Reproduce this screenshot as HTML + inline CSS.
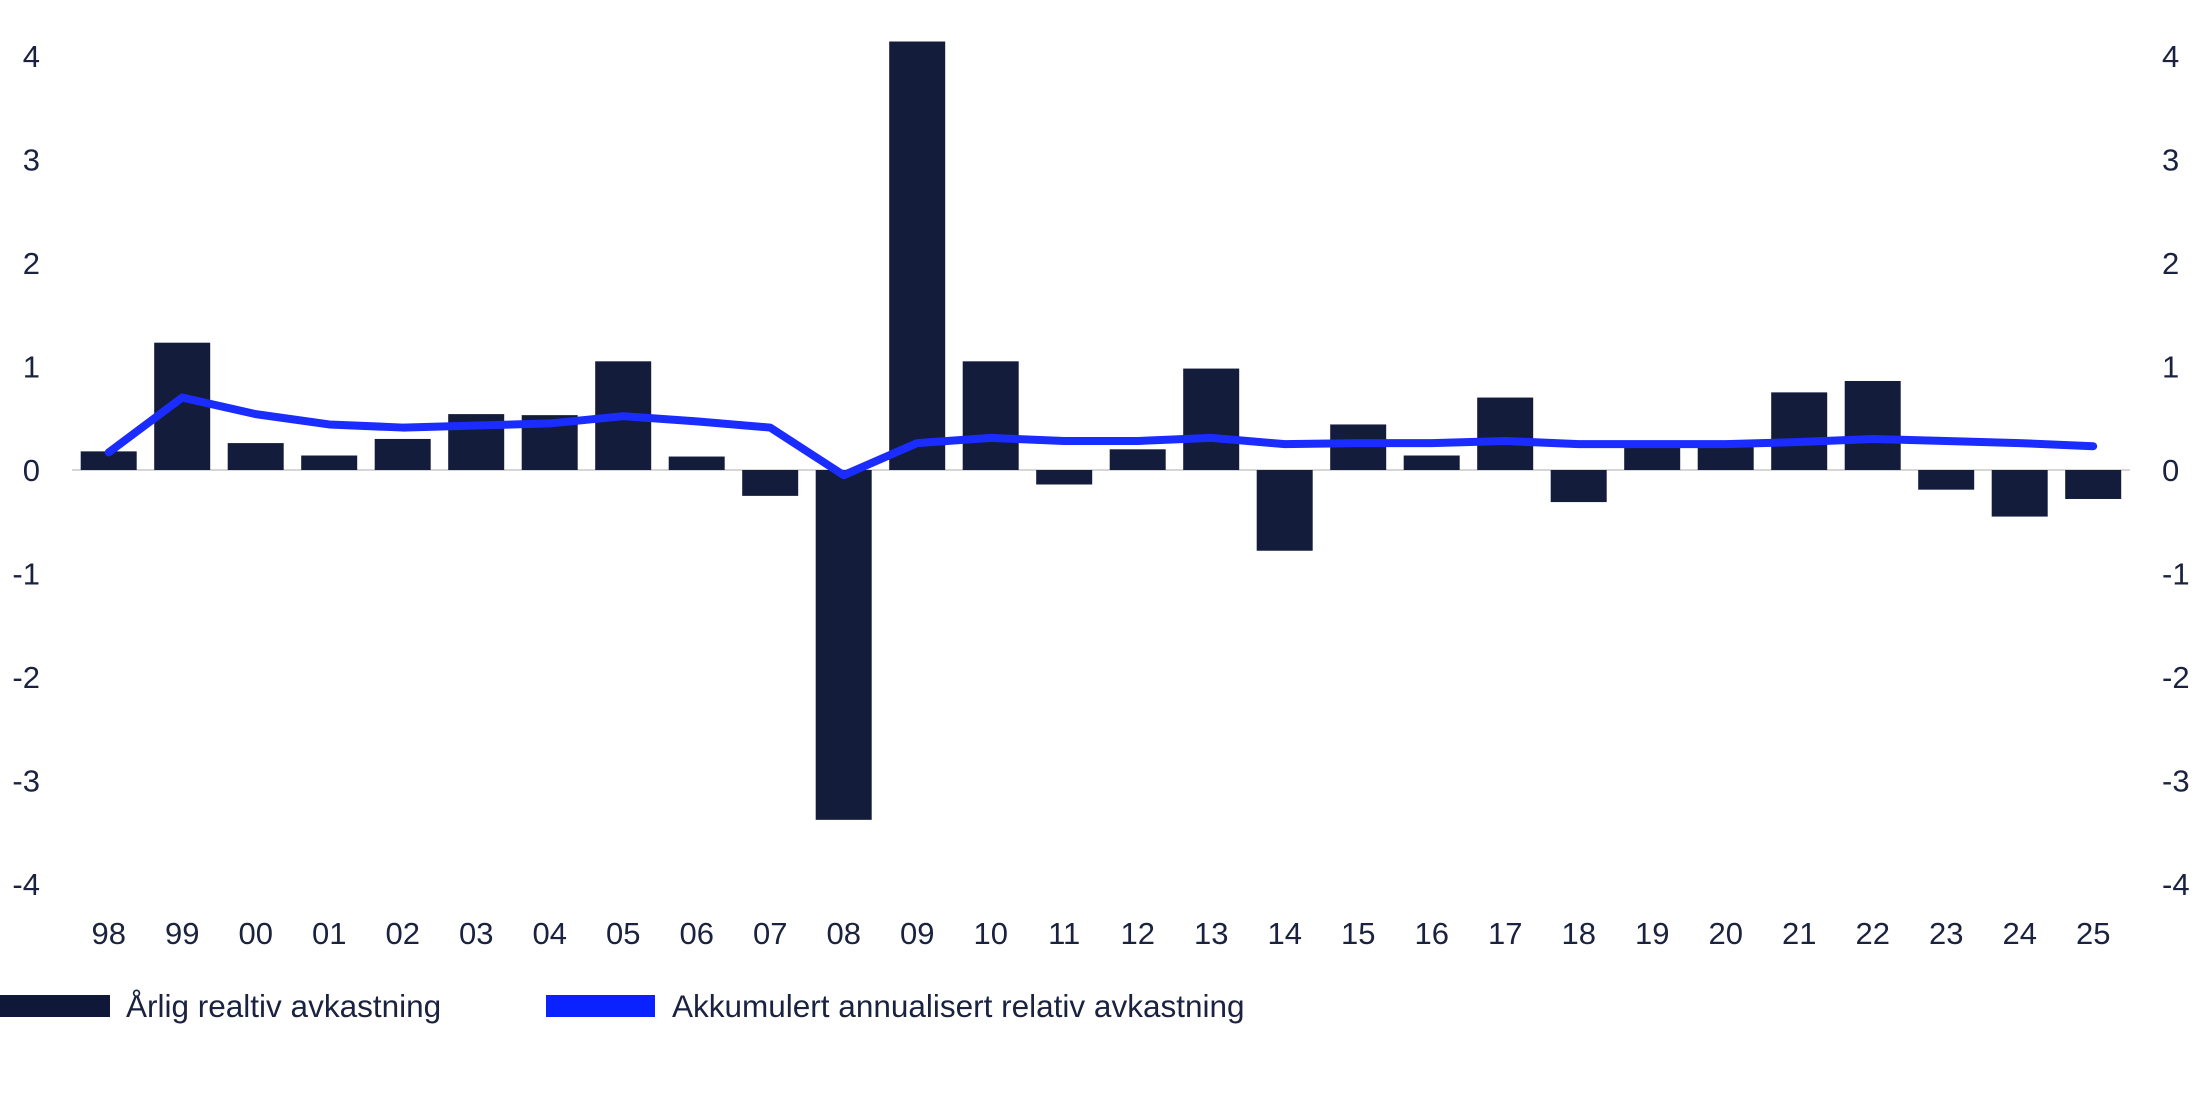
<!DOCTYPE html>
<html><head><meta charset="utf-8"><style>
body{margin:0;background:#fff;}
svg text{font-family:"Liberation Sans",sans-serif;fill:#1a2240;}
</style></head><body>
<svg id="chart" width="2199" height="1099" xmlns="http://www.w3.org/2000/svg">
<g id="axes"></g><g id="bars"></g><g id="line"></g>
<g>
<rect x="0" y="995" width="110" height="22" fill="#0f1838"/>
<text x="126" y="1017" font-size="31.5">Årlig realtiv avkastning</text>
<rect x="546" y="995" width="109" height="22" fill="#0a22ff"/>
<text x="672" y="1017" font-size="31.5">Akkumulert annualisert relativ avkastning</text>
</g>
</svg>
<script>
const categories=["98","99","00","01","02","03","04","05","06","07","08","09","10","11","12","13","14","15","16","17","18","19","20","21","22","23","24","25"];
const annualValues=[0.18,1.23,0.26,0.14,0.30,0.54,0.53,1.05,0.13,-0.25,-3.38,4.14,1.05,-0.14,0.20,0.98,-0.78,0.44,0.14,0.70,-0.31,0.26,0.25,0.75,0.86,-0.19,-0.45,-0.28];
const cumulativeValues=[0.17,0.70,0.54,0.44,0.41,0.43,0.45,0.52,0.47,0.41,-0.05,0.26,0.31,0.28,0.28,0.31,0.25,0.26,0.26,0.28,0.25,0.25,0.25,0.27,0.30,0.28,0.26,0.23];
const yTicks=[4,3,2,1,0,-1,-2,-3,-4];
const NS="http://www.w3.org/2000/svg";
const y0=470, unit=103.5, x0=108.7, step=73.5, bw=56;
const yS=v=>y0-v*unit, xS=i=>x0+i*step;
function mk(t,a,p){const e=document.createElementNS(NS,t);for(const k in a)e.setAttribute(k,a[k]);p.appendChild(e);return e;}
const axes=document.getElementById('axes');
yTicks.forEach(v=>{
 let t=mk('text',{x:40,y:yS(v)+11,'font-size':31,'text-anchor':'end'},axes);t.textContent=String(v);
 
 
 let r=mk('text',{x:2162,y:yS(v)+11,'font-size':31},axes);r.textContent=String(v);
 
 
});
categories.forEach((c,i)=>{
 let t=mk('text',{x:xS(i),y:944,'font-size':31,'text-anchor':'middle'},axes);t.textContent=c;
 
 
});
const bars=document.getElementById('bars');
annualValues.forEach((v,i)=>{
 let r=mk('rect',{x:xS(i)-bw/2,y:Math.min(yS(v),y0),width:bw,height:Math.abs(yS(v)-y0),fill:'#131c3a'},bars);
 
 
});
let z=mk('line',{x1:72,x2:2130,y1:y0,y2:y0,stroke:'#d6d6d6','stroke-width':2},axes);


const lg=document.getElementById('line');
let pl=mk('polyline',{points:cumulativeValues.map((v,i)=>xS(i)+','+yS(v)).join(' '),fill:'none',stroke:'#1a2cff','stroke-width':8,'stroke-linejoin':'round','stroke-linecap':'round'},lg);


</script>
</body></html>
